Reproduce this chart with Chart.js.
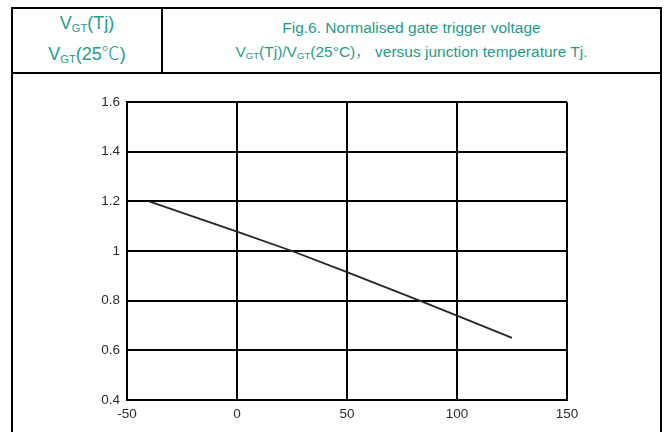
<!DOCTYPE html>
<html>
<head>
<meta charset="utf-8">
<script src="https://cdn.jsdelivr.net/npm/chart.js@4"></script>
<style>
  body { margin: 0; background: #fff; width: 667px; height: 432px; overflow: hidden; position: relative; }
  .ln { position: absolute; background: #000; }
  .hd { position: absolute; color: #1f9b8c; font-family: "Liberation Sans", Arial, sans-serif; text-align: center; white-space: nowrap; }
  .hd sub { font-size: 0.62em; vertical-align: -0.25em; line-height: 0; }
  .cjk { font-family: "Noto Sans CJK SC", sans-serif; font-weight: 300; }
  #myChart { position: absolute; left: 0; top: 0; }
</style>
</head>
<body>
<!-- table frame -->
<div class="ln" style="left:11px;top:7px;width:651px;height:2px"></div>
<div class="ln" style="left:11px;top:72px;width:651px;height:2px"></div>
<div class="ln" style="left:11px;top:7px;width:2px;height:425px"></div>
<div class="ln" style="left:660px;top:7px;width:2px;height:425px"></div>
<div class="ln" style="left:161px;top:7px;width:2px;height:66px"></div>

<div class="hd" style="left:13px;width:148px;top:9px;font-size:18px;line-height:29px">
  V<sub>GT</sub>(Tj)<br>V<sub>GT</sub>(25<span class="cjk">℃</span>)
</div>
<div class="hd" style="left:163px;width:497px;top:17px;font-size:15.5px;line-height:22px">
  Fig.6. Normalised gate trigger voltage<br>V<sub>GT</sub>(Tj)/V<sub>GT</sub>(25°C)<span class="cjk">，</span> versus junction temperature Tj.
</div>

<canvas id="myChart" width="667" height="432"></canvas>
<script>
const tempC = [-40, 0, 25, 50, 83, 100, 125];
const vgtRatio = [1.2, 1.078, 1.0, 0.915, 0.8, 0.74, 0.65];
const xTickLabels = ['-50', '0', '50', '100', '150'];
const yTickLabels = ['0.4', '0.6', '0.8', '1', '1.2', '1.4', '1.6'];

const tickFont = { family: '"Liberation Sans", Arial, sans-serif', size: 13.5 };

const chart = () => {
  let ctx = document.getElementById('myChart');
  new Chart(ctx, {
    type: 'line',
    data: {
      datasets: [{
        data: tempC.map((t, i) => ({ x: t, y: vgtRatio[i] })),
        borderColor: '#262626',
        borderWidth: 1.8,
        pointRadius: 0,
        tension: 0
      }]
    },
    options: {
      responsive: false,
      animation: false,
      layout: { padding: { left: 87, right: 100, top: 102, bottom: 8 } },
      plugins: { legend: { display: false }, tooltip: { enabled: false } },
      scales: {
        x: {
          type: 'linear',
          min: -50,
          max: 150,
          afterFit: (s) => { s.height = 24; },
          border: { color: '#000', width: 2 },
          grid: { color: '#000', lineWidth: 2, drawTicks: false },
          ticks: {
            stepSize: 50,
            padding: 6,
            color: '#2b2b2b',
            font: tickFont,
            maxRotation: 0,
            callback: (v, i) => xTickLabels[i]
          }
        },
        y: {
          min: 0.4,
          max: 1.6,
          afterFit: (s) => { s.width = 40; },
          border: { color: '#000', width: 2 },
          grid: { color: '#000', lineWidth: 2, drawTicks: false },
          ticks: {
            stepSize: 0.2,
            padding: 7,
            color: '#2b2b2b',
            font: tickFont,
            callback: (v, i) => yTickLabels[i]
          }
        }
      }
    }
  });
};
chart();
</script>
</body>
</html>
